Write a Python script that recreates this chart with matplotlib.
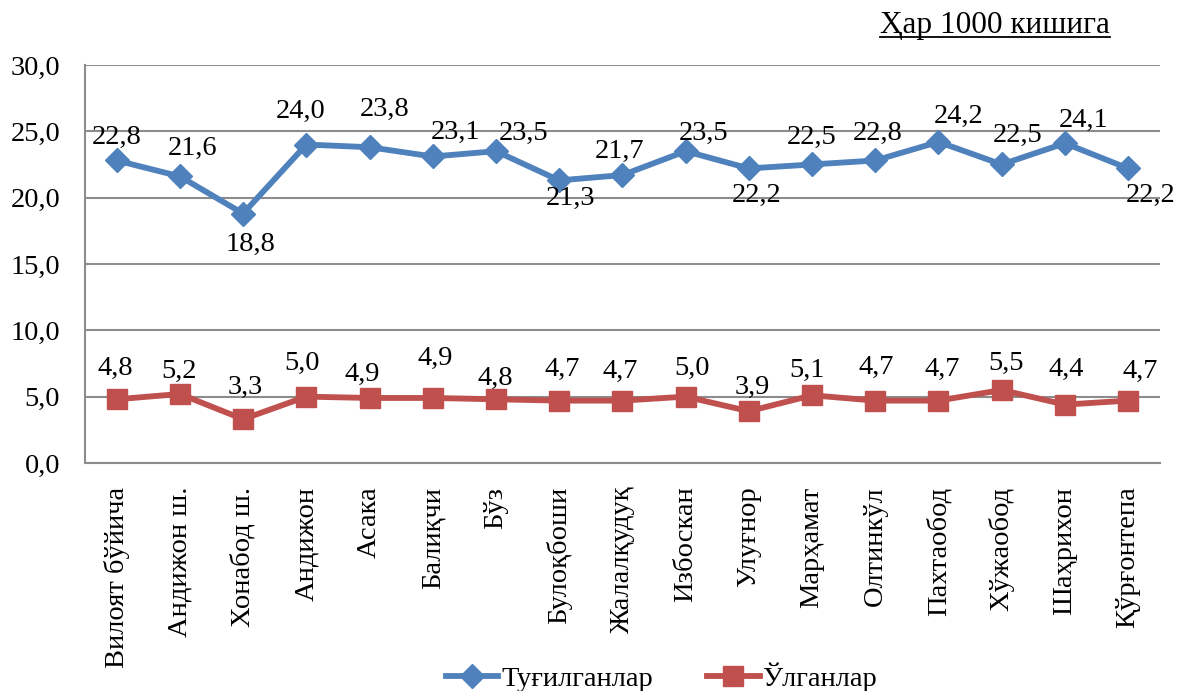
import matplotlib
matplotlib.use('Agg')
from matplotlib import pyplot as plt
from matplotlib.ticker import FuncFormatter, MultipleLocator
from matplotlib.lines import Line2D

plt.rcParams['font.family'] = ['Liberation Serif', 'DejaVu Serif']

# Data
districts = ['Вилоят бўйича', 'Андижон ш.', 'Хонабод ш.', 'Андижон', 'Асака',
             'Балиқчи', 'Бўз', 'Булоқбоши', 'Жалалқудуқ', 'Избоскан', 'Улуғнор',
             'Марҳамат', 'Олтинкўл', 'Пахтаобод', 'Хўжаобод', 'Шаҳрихон', 'Қўрғонтепа']
births = [22.8, 21.6, 18.8, 24.0, 23.8, 23.1, 23.5, 21.3, 21.7, 23.5, 22.2,
          22.5, 22.8, 24.2, 22.5, 24.1, 22.2]
deaths = [4.8, 5.2, 3.3, 5.0, 4.9, 4.9, 4.8, 4.7, 4.7, 5.0, 3.9,
          5.1, 4.7, 4.7, 5.5, 4.4, 4.7]

# label offsets (pixels) as placed in the original
births_off = [(0, 23), (13, 28), (7, -31), (-6, 33), (15, 38), (23, 24), (28, 18),
              (11, -18), (-3, 24), (18, 18), (8, -27), (0, 27), (2, 27), (20, 25),
              (16, 29), (19, 23), (22, -27)]
deaths_off = [(-1, 31), (-1, 23), (2, 32), (-4, 33), (-7, 24), (2, 40), (-1, 21),
              (3, 31), (-2, 29), (6, 28), (3, 24), (-5, 25), (1, 33), (4, 31),
              (4, 27), (1, 35), (12, 29)]

blue = '#4F81BD'
red = '#C0504D'
grid_c = '#8C8C8C'
fs = 20.5

fig = plt.figure(figsize=(11.81, 6.91), dpi=100)
ax = fig.add_axes([0.072, 0.330, 0.910, 0.576])

x = list(range(len(districts)))
ax.plot(x, births, color=blue, lw=4.2, marker='D', markersize=12, label='Туғилганлар')
ax.plot(x, deaths, color=red, lw=4.2, marker='s', markersize=14, label='Ўлганлар')

for xi, v, (dx, dy) in zip(x, births, births_off):
    ax.annotate(f'{v:.1f}'.replace('.', ','), (xi, v), xytext=(dx, dy),
                textcoords='offset pixels', ha='center', va='center', fontsize=fs)
for xi, v, (dx, dy) in zip(x, deaths, deaths_off):
    ax.annotate(f'{v:.1f}'.replace('.', ','), (xi, v), xytext=(dx, dy),
                textcoords='offset pixels', ha='center', va='center', fontsize=fs)

ax.set_xlim(-0.5, len(districts) - 0.5)
ax.set_ylim(0, 30)
ax.yaxis.set_major_locator(MultipleLocator(5))
ax.yaxis.set_major_formatter(FuncFormatter(lambda v, p: f'{v:.1f}'.replace('.', ',')))
ax.set_xticks(x)
ax.set_xticklabels(districts, rotation=90, fontsize=fs)
ax.tick_params(axis='y', labelsize=fs, length=0, pad=18)
ax.tick_params(axis='x', length=0, pad=17)
ax.yaxis.grid(True, color=grid_c, lw=1.5)
ax.set_axisbelow(True)
for s in ['top', 'right']:
    ax.spines[s].set_visible(False)
for s in ['left', 'bottom']:
    ax.spines[s].set_color(grid_c)
    ax.spines[s].set_linewidth(1.5)

leg = fig.legend(loc='center', bbox_to_anchor=(0.56, 0.02), ncol=2, frameon=False,
                 fontsize=fs, handlelength=1.85, columnspacing=1.9, handletextpad=0.1)

# underlined unit note
t = fig.text(1110 / 1181, 1 - 25 / 691, 'Ҳар 1000 кишига', ha='right', va='center', fontsize=22.5)
fig.canvas.draw()
bb = t.get_window_extent().transformed(fig.transFigure.inverted())
fig.add_artist(Line2D([bb.x0, bb.x1], [bb.y0 + 0.004, bb.y0 + 0.004], color='black', lw=1.3,
                      transform=fig.transFigure))

fig.savefig('out.png', dpi=100)
